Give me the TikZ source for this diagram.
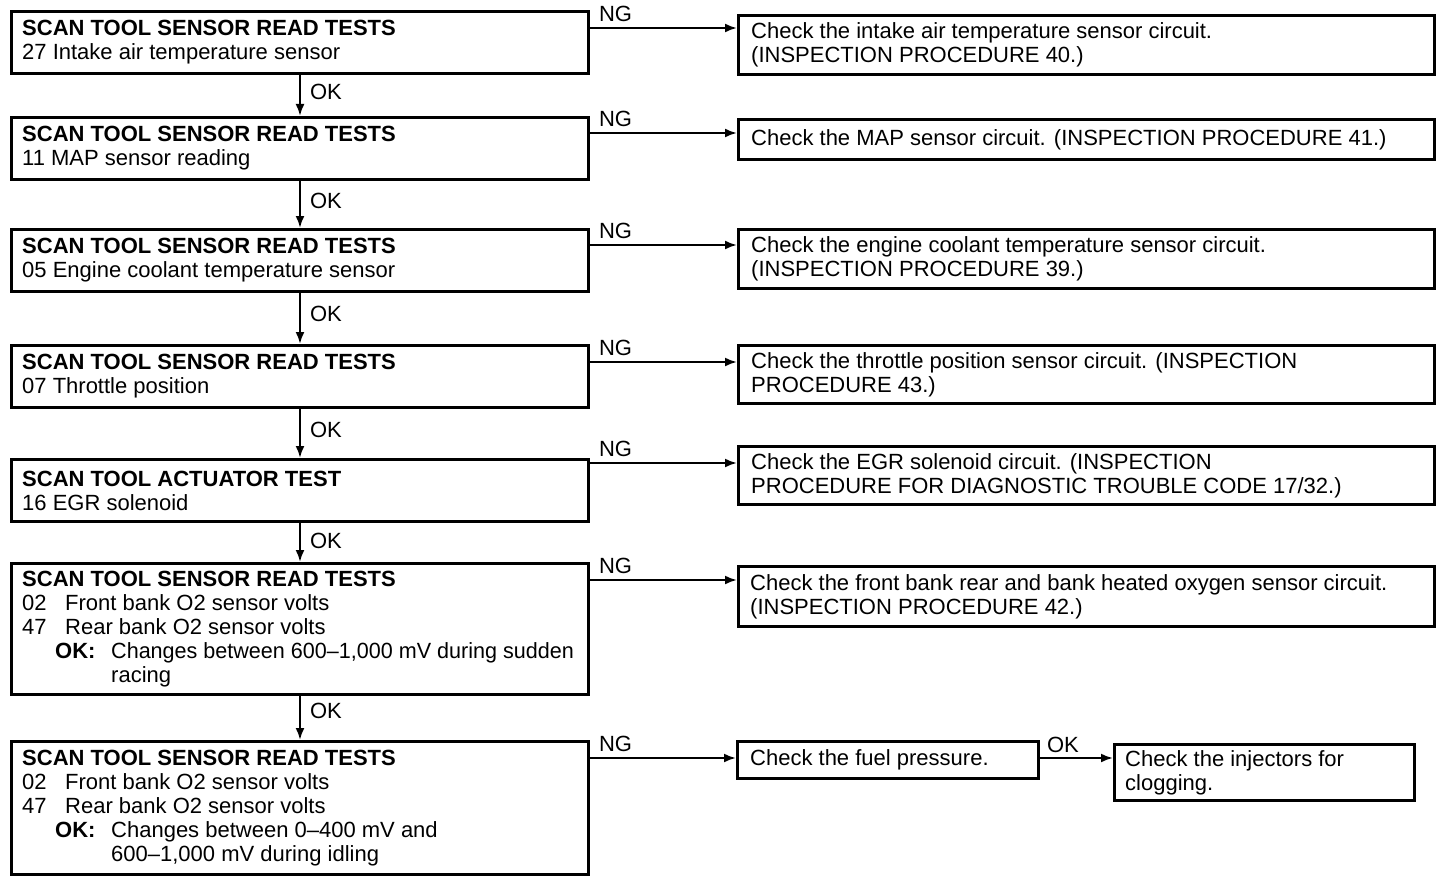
\documentclass[tikz,border=0pt]{standalone}
\usepackage{fontspec}
\setmainfont{Liberation Sans}
\usetikzlibrary{arrows.meta}
\begin{document}
\begin{tikzpicture}[x=1pt,y=-1pt,
  box/.style={draw, line width=3pt, rectangle, anchor=north west, inner sep=0pt},
  lbox/.style={box, minimum width=577pt},
  rbox/.style={box, minimum width=696pt},
  txt/.style={anchor=west, align=left, inner sep=0pt, font=\fontsize{22}{24}\selectfont},
  lab/.style={inner sep=0pt, font=\fontsize{22}{24}\selectfont},
  arr/.style={line width=2.2pt, -{Latex[length=12pt,width=9pt]}},
]
\useasboundingbox[fill=white] (0,0) rectangle (1440,880);

% left boxes
\node[lbox, minimum height=62pt] (L1) at (10,10) {};
\node[lbox, minimum height=62pt] (L2) at (10,116) {};
\node[lbox, minimum height=62pt] (L3) at (10,228) {};
\node[lbox, minimum height=62pt] (L4) at (10,344) {};
\node[lbox, minimum height=62pt] (L5) at (10,458) {};
\node[lbox, minimum height=131pt] (L6) at (10,562) {};
\node[lbox, minimum height=133pt] (L7) at (10,740) {};

\node[txt] (L1t) at ([xshift=12pt]L1.west) {\textbf{SCAN TOOL SENSOR READ TESTS}\\27 Intake air temperature sensor};
\node[txt] (L2t) at ([xshift=12pt]L2.west) {\textbf{SCAN TOOL SENSOR READ TESTS}\\11 MAP sensor reading};
\node[txt] (L3t) at ([xshift=12pt]L3.west) {\textbf{SCAN TOOL SENSOR READ TESTS}\\05 Engine coolant temperature sensor};
\node[txt] (L4t) at ([xshift=12pt]L4.west) {\textbf{SCAN TOOL SENSOR READ TESTS}\\07 Throttle position};
\node[txt] (L5t) at ([xshift=12pt]L5.west) {\textbf{SCAN TOOL ACTUATOR TEST}\\16 EGR solenoid};
\node[txt] (L6t) at ([xshift=12pt]L6.west) {\textbf{SCAN TOOL SENSOR READ TESTS}\\
\makebox[43pt][l]{02}Front bank O2 sensor volts\\
\makebox[43pt][l]{47}Rear bank O2 sensor volts\\
\hspace*{33pt}\makebox[56pt][l]{\textbf{OK:}}\scalebox{0.98}[1]{Changes between 600--1,000 mV during sudden}\\
\hspace*{89pt}racing};
\node[txt] (L7t) at ([xshift=12pt]L7.west) {\textbf{SCAN TOOL SENSOR READ TESTS}\\
\makebox[43pt][l]{02}Front bank O2 sensor volts\\
\makebox[43pt][l]{47}Rear bank O2 sensor volts\\
\hspace*{33pt}\makebox[56pt][l]{\textbf{OK:}}Changes between 0--400 mV and\\
\hspace*{89pt}600--1,000 mV during idling};

% right boxes
\node[rbox, minimum height=59pt] (R1) at (737,14) {};
\node[rbox, minimum height=40pt] (R2) at (737,118) {};
\node[rbox, minimum height=59pt] (R3) at (737,228) {};
\node[rbox, minimum height=58pt] (R4) at (737,344) {};
\node[rbox, minimum height=58pt] (R5) at (737,445) {};
\node[rbox, minimum height=60pt] (R6) at (737,565) {};
\node[box, minimum width=301pt, minimum height=37pt] (R7) at (736,740) {};
\node[box, minimum width=300pt, minimum height=56pt] (R8) at (1113,743) {};

\node[txt] (R1t) at ([xshift=14pt]R1.west) {Check the intake air temperature sensor circuit.\\(INSPECTION PROCEDURE 40.)};
\node[txt] (R2t) at ([xshift=14pt]R2.west) {Check the MAP sensor circuit. (INSPECTION PROCEDURE 41.)};
\node[txt] (R3t) at ([xshift=14pt]R3.west) {Check the engine coolant temperature sensor circuit.\\(INSPECTION PROCEDURE 39.)};
\node[txt] (R4t) at ([xshift=14pt]R4.west) {Check the throttle position sensor circuit. (INSPECTION\\PROCEDURE 43.)};
\node[txt] (R5t) at ([xshift=14pt]R5.west) {Check the EGR solenoid circuit. (INSPECTION\\PROCEDURE FOR DIAGNOSTIC TROUBLE CODE 17/32.)};
\node[txt] (R6t) at ([xshift=13pt]R6.west) {Check the front bank rear and bank heated oxygen sensor circuit.\\(INSPECTION PROCEDURE 42.)};
\node[txt] (R7t) at ([xshift=14pt]R7.west) {Check the fuel pressure.};
\node[txt] (R8t) at ([xshift=12pt]R8.west) {Check the injectors for\\clogging.};

% OK arrows (down)
\foreach \a/\b/\p in {L1/L2/0.42, L2/L3/0.42, L3/L4/0.42, L4/L5/0.42, L5/L6/0.45, L6/L7/0.35}{
  \draw[arr] (\a.south) -- node[lab, pos=\p, anchor=west, xshift=9pt] (ok\a) {OK} (\b.north);
}

% NG arrows
\foreach \a/\b/\d in {L1/R1/18, L2/R2/17, L3/R3/17, L4/R4/18, L5/R5/5, L6/R6/18, L7/R7/18}{
  \coordinate (n\a) at ([yshift=-\d pt]\a.north east);
  \draw[arr] (n\a) -- (n\a -| \b.west) node[lab, pos=0, anchor=south west, xshift=8pt, yshift=5pt] (ng\a) {NG};
}

% OK from fuel pressure to injectors
\coordinate (nR7) at ([yshift=-18pt]R7.north east);
\draw[arr] (nR7) -- (nR7 -| R8.west) node[lab, pos=0, anchor=south west, xshift=6pt, yshift=4pt] (okR7) {OK};
\end{tikzpicture}
\end{document}
